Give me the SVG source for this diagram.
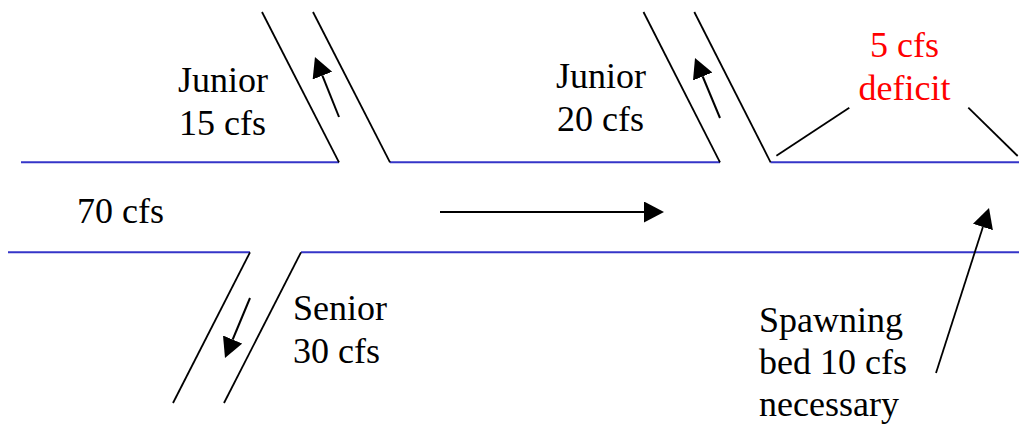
<svg xmlns="http://www.w3.org/2000/svg" width="1019" height="425" viewBox="0 0 1019 425">
  <style>
    .bank { stroke: #3535c8; stroke-width: 2; fill: none; }
    .side { stroke: #000; stroke-width: 1.8; fill: none; }
    .arrow { stroke: #000; stroke-width: 2; fill: none; marker-end: url(#head); }
    .lbl { font-family: "Liberation Serif", "Times New Roman", serif; font-size: 36px; fill: #000; }
    .red { fill: #ff0000; }
  </style>
  <defs>
    <marker id="head" markerUnits="userSpaceOnUse" markerWidth="21" markerHeight="22" refX="0" refY="10.5" orient="auto" viewBox="0 0 21 22">
      <path d="M0,0 L20,10.5 L0,21 z" fill="#000"/>
    </marker>
  </defs>
  <rect width="1019" height="425" fill="#fff"/>

  <g id="river">
    <line class="bank" x1="21" y1="162.3" x2="339" y2="162.3"/>
    <line class="bank" x1="390" y1="162.3" x2="720" y2="162.3"/>
    <line class="bank" x1="770.6" y1="162.3" x2="1019" y2="162.3"/>
    <line class="bank" x1="8" y1="252.3" x2="250" y2="252.3"/>
    <line class="bank" x1="301" y1="252.3" x2="1019" y2="252.3"/>
  </g>

  <g id="junior15">
    <line class="side" x1="262" y1="12" x2="339" y2="162.3"/>
    <line class="side" x1="313" y1="12" x2="390" y2="162.3"/>
    <text class="lbl" x="178" y="92">Junior</text>
    <text class="lbl" x="179" y="135">15 cfs</text>
  </g>

  <g id="junior20">
    <line class="side" x1="643.5" y1="12" x2="720" y2="162.3"/>
    <line class="side" x1="694.3" y1="12" x2="770.6" y2="162.3"/>
    <text class="lbl" x="556" y="87.5">Junior</text>
    <text class="lbl" x="557" y="130.5">20 cfs</text>
  </g>

  <g id="senior30">
    <line class="side" x1="250" y1="252.3" x2="173" y2="403"/>
    <line class="side" x1="301" y1="252.3" x2="224" y2="403"/>
    <text class="lbl" x="293" y="320">Senior</text>
    <text class="lbl" x="293" y="363">30 cfs</text>
  </g>

  <g id="deficit">
    <line class="side" x1="776.4" y1="155.7" x2="849.3" y2="107.7"/>
    <line class="side" x1="968.3" y1="107.7" x2="1017.7" y2="156"/>
    <text class="lbl red" x="904.5" y="57" text-anchor="middle">5 cfs</text>
    <text class="lbl red" x="904.5" y="100" text-anchor="middle">deficit</text>
  </g>

  <g id="flow70">
    <text class="lbl" x="77" y="223">70 cfs</text>
  </g>

  <g id="spawning">
    <text class="lbl" x="759" y="332">Spawning</text>
    <text class="lbl" x="759" y="374">bed 10 cfs</text>
    <text class="lbl" x="759" y="416">necessary</text>
  </g>

  <g id="connectors">
    <line class="arrow" x1="339" y1="117" x2="322.4" y2="75.6"/>
    <line class="arrow" x1="720" y1="118" x2="702.7" y2="76.5"/>
    <line class="arrow" x1="250" y1="298" x2="232.7" y2="339.5"/>
    <line class="arrow" x1="440" y1="212" x2="644" y2="212"/>
    <line class="arrow" x1="936" y1="373" x2="982.9" y2="227" style="stroke-width:1.8"/>
  </g>
</svg>
